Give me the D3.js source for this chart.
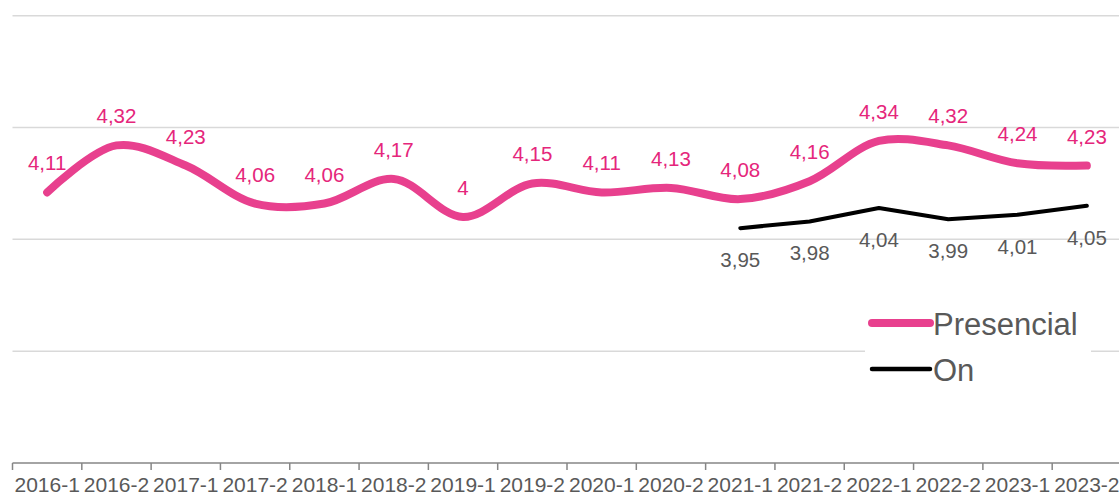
<!DOCTYPE html>
<html>
<head>
<meta charset="utf-8">
<script src="https://cdn.jsdelivr.net/npm/d3@7"></script>
<style>
  body { margin: 0; background: #fff; }
  svg { display: block; font-family: 'Liberation Sans', Arial, sans-serif; }
</style>
</head>
<body>
<svg id="chart" width="1119" height="498"></svg>
<script>
const categories = ['2016-1', '2016-2', '2017-1', '2017-2', '2018-1', '2018-2', '2019-1', '2019-2',
  '2020-1', '2020-2', '2021-1', '2021-2', '2022-1', '2022-2', '2023-1', '2023-2'];
const presencial = [4.11, 4.32, 4.23, 4.06, 4.06, 4.17, 4.00, 4.15, 4.11, 4.13, 4.08, 4.16, 4.34, 4.32, 4.24, 4.23];
const online = [null, null, null, null, null, null, null, null, null, null, 3.95, 3.98, 4.04, 3.99, 4.01, 4.05];
const seriesNames = ['Presencial', 'On'];
const yTicks = [2.9, 3.4, 3.9, 4.4, 4.9];

const WIDTH = 1119;
const HEIGHT = 498;
const LEFT = 12.5;
const RIGHT = 1121.5;
const TOP = 15.7;
const BOTTOM = 463;
const PINK = '#e8408e';
const PINK_TEXT = '#e5267b';
const GREY_TEXT = '#595959';

const svg = d3.select('#chart');

const x = d3.scaleBand().domain(categories).range([LEFT, RIGHT]);
const y = d3.scaleLinear().domain([yTicks[0], yTicks[yTicks.length - 1]]).range([BOTTOM, TOP]);
const cx = c => x(c) + x.bandwidth() / 2;
const fmt = v => String(v).replace('.', ',');

// gridlines
svg.append('g')
  .selectAll('line')
  .data(yTicks.slice(1))
  .join('line')
  .attr('x1', LEFT)
  .attr('x2', WIDTH)
  .attr('y1', d => y(d))
  .attr('y2', d => y(d))
  .attr('stroke', '#d9d9d9')
  .attr('stroke-width', 1.5);

// x axis: labels from d3 axis, ticks on the band edges like excel
const axis = svg.append('g')
  .attr('transform', `translate(0,${BOTTOM})`)
  .call(d3.axisBottom(x).tickSize(0).tickPadding(14.5));
axis.select('.domain').remove();
axis.selectAll('text')
  .attr('font-size', 21)
  .attr('font-family', "'Liberation Sans', Arial, sans-serif")
  .attr('fill', GREY_TEXT);

axis.selectAll('.edge')
  .data(categories.concat(null))
  .join('line')
  .attr('class', 'edge')
  .attr('x1', d => d === null ? RIGHT : x(d))
  .attr('x2', d => d === null ? RIGHT : x(d))
  .attr('y1', 0)
  .attr('y2', 7)
  .attr('stroke', '#868686')
  .attr('stroke-width', 1.5);
axis.append('line')
  .attr('x1', LEFT)
  .attr('x2', RIGHT)
  .attr('stroke', '#868686')
  .attr('stroke-width', 1.5);

// lines
const pinkLine = d3.line()
  .defined(d => d.v !== null)
  .x(d => cx(d.c))
  .y(d => y(d.v))
  .curve(d3.curveCatmullRom.alpha(0.5));
const blackLine = d3.line()
  .defined(d => d.v !== null)
  .x(d => cx(d.c))
  .y(d => y(d.v));

const pData = categories.map((c, i) => ({ c, v: presencial[i] }));
const oData = categories.map((c, i) => ({ c, v: online[i] }));

svg.append('path')
  .attr('d', pinkLine(pData))
  .attr('fill', 'none')
  .attr('stroke', PINK)
  .attr('stroke-width', 8)
  .attr('stroke-linecap', 'round')
  .attr('stroke-linejoin', 'round');

svg.append('path')
  .attr('d', blackLine(oData))
  .attr('fill', 'none')
  .attr('stroke', '#000')
  .attr('stroke-width', 4)
  .attr('stroke-linecap', 'round')
  .attr('stroke-linejoin', 'round');

// data labels
svg.append('g')
  .attr('font-size', 20.5)
  .attr('text-anchor', 'middle')
  .attr('fill', PINK_TEXT)
  .selectAll('text')
  .data(pData)
  .join('text')
  .attr('x', d => cx(d.c))
  .attr('y', d => y(d.v) - 22)
  .text(d => fmt(d.v));

svg.append('g')
  .attr('font-size', 20.5)
  .attr('text-anchor', 'middle')
  .attr('fill', GREY_TEXT)
  .selectAll('text')
  .data(oData.filter(d => d.v !== null))
  .join('text')
  .attr('x', d => cx(d.c))
  .attr('y', d => y(d.v) + 39)
  .text(d => fmt(d.v));

// legend
const legend = svg.append('g').attr('transform', 'translate(865,298)');
legend.append('rect')
  .attr('width', 226)
  .attr('height', 96)
  .attr('fill', '#fff');
const items = legend.selectAll('g')
  .data(seriesNames)
  .join('g')
  .attr('transform', (d, i) => `translate(0,${25 + i * 46})`);
items.append('line')
  .attr('x1', 7)
  .attr('x2', 65)
  .attr('stroke', (d, i) => i === 0 ? PINK : '#000')
  .attr('stroke-width', (d, i) => i === 0 ? 8 : 4.5)
  .attr('stroke-linecap', 'round');
items.append('text')
  .attr('x', 68)
  .attr('y', 11.5)
  .attr('font-size', 31)
  .attr('fill', GREY_TEXT)
  .text(d => d);
</script>
</body>
</html>
